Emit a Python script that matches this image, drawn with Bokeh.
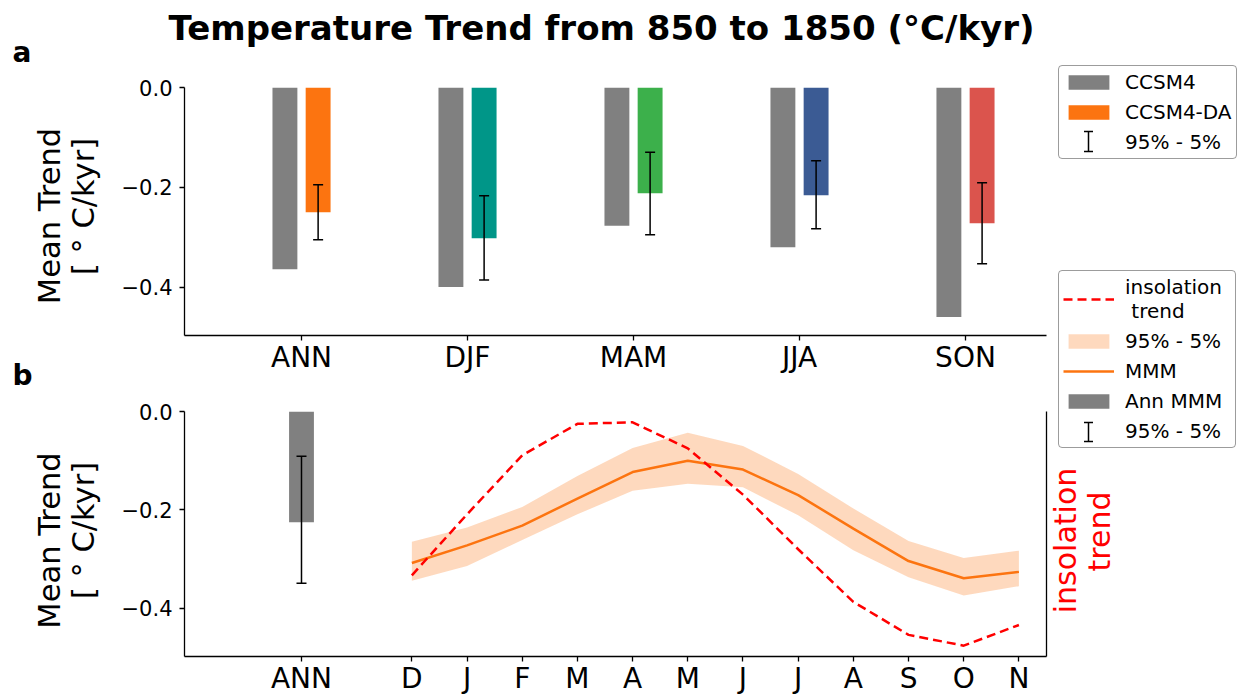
import math
import numpy as np
from bokeh.plotting import figure
from bokeh.models import (ColumnDataSource, Range1d, FixedTicker, LinearAxis, Label,
                          Legend, LegendItem, Whisker, TeeHead)
from bokeh.layouts import column
from bokeh.embed import file_html
from bokeh.resources import INLINE

# ---------------- data ----------------
seasons = ["ANN", "DJF", "MAM", "JJA", "SON"]
ccsm4 = [-0.364, -0.400, -0.277, -0.320, -0.460]
ccsm4_da = [-0.250, -0.302, -0.212, -0.216, -0.272]
da_hi = [-0.195, -0.217, -0.130, -0.147, -0.191]
da_lo = [-0.305, -0.386, -0.295, -0.283, -0.353]
da_colors = ["#fc7410", "#009688", "#3cb04b", "#3b5b94", "#db544d"]

months = ["D", "J", "F", "M", "A", "M", "J", "J", "A", "S", "O", "N"]
mmm = [-0.308, -0.272, -0.232, -0.177, -0.123, -0.100, -0.118, -0.170, -0.238, -0.304, -0.339, -0.326]
mmm_hi = [-0.265, -0.236, -0.194, -0.131, -0.074, -0.043, -0.070, -0.127, -0.197, -0.263, -0.298, -0.283]
mmm_lo = [-0.344, -0.314, -0.261, -0.209, -0.161, -0.147, -0.154, -0.211, -0.282, -0.337, -0.374, -0.355]
insolation = [-0.333, -0.209, -0.089, -0.025, -0.022, -0.075, -0.169, -0.280, -0.387, -0.454, -0.476, -0.434]
ann_mmm = [-0.225]
ann_hi = [-0.091]
ann_lo = [-0.349]

y_ticks = [-0.4, -0.2, 0.0]
y_tick_labels = {-0.4: "\u22120.4", -0.2: "\u22120.2", 0.0: "0.0"}

FONT = "DejaVu Sans"
GRAY = "#808080"
ORANGE = "#fc7410"
W = 1238
H = 698


def style_axes(p):
    p.outline_line_color = None
    p.xgrid.visible = False
    p.ygrid.visible = False
    for ax in p.axis:
        ax.axis_line_width = 1.3
        ax.axis_line_color = "black"
        ax.major_tick_line_width = 1.3
        ax.major_tick_in = 0
        ax.major_tick_out = 5
        ax.minor_tick_line_color = None
        ax.major_label_text_font = FONT
        ax.major_label_text_color = "black"
    p.yaxis.ticker = FixedTicker(ticks=y_ticks)
    p.yaxis.major_label_overrides = y_tick_labels
    p.yaxis.major_label_text_font_size = "21px"
    p.yaxis.major_label_standoff = 7
    p.xaxis.major_label_text_font_size = "28px"
    p.xaxis.major_label_standoff = 0


def whisker(src, base, upper="hi", lower="lo", size=10):
    return Whisker(base=base, upper=upper, lower=lower, source=src, dimension="height",
                   line_color="black", line_width=1.5, level="annotation",
                   upper_head=TeeHead(size=size, line_color="black", line_width=1.5),
                   lower_head=TeeHead(size=size, line_color="black", line_width=1.5))


# ---------------- panel a ----------------
pa = figure(width=W, height=378, x_range=Range1d(-0.705, 4.488), y_range=Range1d(-0.497, 0.0),
            output_backend="svg", toolbar_location=None, title=None,
            min_border_left=184, min_border_right=192, min_border_top=87, min_border_bottom=43)
style_axes(pa)
pa.xaxis.ticker = FixedTicker(ticks=list(range(len(seasons))))
pa.xaxis.major_label_overrides = {i: s for i, s in enumerate(seasons)}

idx = list(range(len(seasons)))
src_a = ColumnDataSource(dict(
    xg=[i - 0.1 for i in idx], xd=[i + 0.1 for i in idx],
    ccsm4=ccsm4, da=ccsm4_da, hi=da_hi, lo=da_lo, color=da_colors))

pa.vbar(x="xg", top="ccsm4", bottom=0, width=0.15, fill_color=GRAY, line_color=None, source=src_a)
pa.vbar(x="xd", top="da", bottom=0, width=0.15, fill_color="color", line_color=None, source=src_a)
pa.add_layout(whisker(src_a, "xd"))

# ---------------- panel b ----------------
pb = figure(width=W, height=428, x_range=Range1d(-2.12, 13.5), y_range=Range1d(-0.498, 0.0),
            output_backend="svg", toolbar_location=None, title=None, margin=(-108, 0, 0, 0),
            min_border_left=184, min_border_right=192, min_border_top=141, min_border_bottom=42)
pb.border_fill_color = None
style_axes(pb)
mx = [i + 2 for i in range(len(months))]
pb.xaxis.ticker = FixedTicker(ticks=[0] + mx)
pb.xaxis.major_label_overrides = {0: "ANN", **{x: m for x, m in zip(mx, months)}}
pb.add_layout(LinearAxis(ticker=FixedTicker(ticks=[]), axis_line_width=1.3, axis_line_color="black",
                         major_tick_out=0, major_tick_in=0, minor_tick_line_color=None,
                         major_label_text_font_size="0px"), "right")

src_b = ColumnDataSource(dict(x=mx, mmm=mmm, hi=mmm_hi, lo=mmm_lo, ins=insolation))
src_ann = ColumnDataSource(dict(x=[0], v=ann_mmm, hi=ann_hi, lo=ann_lo))

pb.varea(x="x", y1="lo", y2="hi", fill_color=ORANGE, fill_alpha=0.27, source=src_b)
pb.line(x="x", y="mmm", line_color=ORANGE, line_width=2.5, source=src_b)
pb.line(x="x", y="ins", line_color="red", line_width=2.5, line_dash="9 5", source=src_b)
pb.vbar(x="x", top="v", bottom=0, width=0.45, fill_color=GRAY, line_color=None, source=src_ann)
pb.add_layout(whisker(src_ann, "x"))

# ---------------- overlay: titles, panel letters, axis titles, legends ----------------
ov = figure(width=W, height=H, x_range=Range1d(0, W), y_range=Range1d(0, H),
            output_backend="svg", toolbar_location=None, title=None,
            x_axis_type=None, y_axis_type=None, min_border=0, margin=(-H, 0, 0, 0))
ov.outline_line_color = None
ov.background_fill_color = None
ov.border_fill_color = None


def add_text(text, x, y, size, angle=0.0, bold=False, color="black", align="center"):
    ov.add_layout(Label(x=x, y=y, x_units="canvas", y_units="canvas", text=text,
                        text_font=FONT, text_font_size=size,
                        text_font_style="bold" if bold else "normal",
                        text_color=color, text_align=align, text_baseline="alphabetic",
                        angle=angle, angle_units="rad"))


add_text("Temperature Trend from 850 to 1850 (\u00b0C/kyr)", 601, 27, "34px", bold=True)
add_text("a", 12, 52, "28px", bold=True, align="left")
add_text("b", 12, 375, "28px", bold=True, align="left")
add_text("Mean Trend", 49, 215.5, "30.5px", angle=math.pi / 2)
add_text("[ \u00b0 C/kyr]", 83, 206, "30.5px", angle=math.pi / 2)
add_text("Mean Trend", 49, 540, "30.5px", angle=math.pi / 2)
add_text("[ \u00b0 C/kyr]", 83, 530, "30.5px", angle=math.pi / 2)
add_text("insolation", 1065, 540, "30px", angle=math.pi / 2, color="red")
add_text("trend", 1099, 531, "30px", angle=math.pi / 2, color="red")

# legend keys (styles only; no data drawn)
nan = np.array([np.nan])
k_gray = ov.vbar(x=nan, top=nan, width=1, fill_color=GRAY, line_color=None)
k_da = ov.vbar(x=nan, top=nan, width=1, fill_color=da_colors[0], line_color=None)
k_err = ov.line(x=nan, y=nan, line_color="black", line_alpha=0)
k_ins = ov.line(x=nan, y=nan, line_color="red", line_width=2.5, line_dash="9 5")
k_band = ov.vbar(x=nan, top=nan, width=1, fill_color=ORANGE, fill_alpha=0.27, line_color=None)
k_mmm = ov.line(x=nan, y=nan, line_color=ORANGE, line_width=2.5)


def make_legend(items, loc):
    leg = Legend(items=[LegendItem(label=l, renderers=[r]) for l, r in items], location=loc)
    leg.border_line_color = "#3a3a3a"
    leg.border_line_width = 1
    leg.background_fill_color = "white"
    leg.background_fill_alpha = 0.0
    leg.label_text_font = FONT
    leg.label_text_font_size = "20px"
    leg.label_text_color = "black"
    leg.glyph_width = 51
    leg.glyph_height = 18
    leg.label_standoff = 11
    leg.label_height = 22
    leg.label_width = 106
    leg.spacing = 6
    leg.padding = 4
    leg.margin = 0
    if "border_radius" in Legend.properties():
        leg.border_radius = 4
    ov.add_layout(leg)


make_legend([("CCSM4", k_gray), ("CCSM4-DA", k_da), ("95% - 5%", k_err)], (1058, H - 159))
make_legend([("insolation\n trend", k_ins), ("95% - 5%", k_band), ("MMM", k_mmm),
             ("Ann MMM", k_gray), ("95% - 5%", k_err)], (1058, H - 448))

# error-bar legend keys drawn as small whiskers at the key slots (screen positions)
key_src = ColumnDataSource(dict(x=[1088, 1088], top=[H - 131, H - 422], bot=[H - 151, H - 441]))
ov.add_layout(whisker(key_src, "x", upper="top", lower="bot", size=9))

plots = column(pa, pb, spacing=0)
open("out.html", "w").write(file_html([plots, ov], INLINE))
